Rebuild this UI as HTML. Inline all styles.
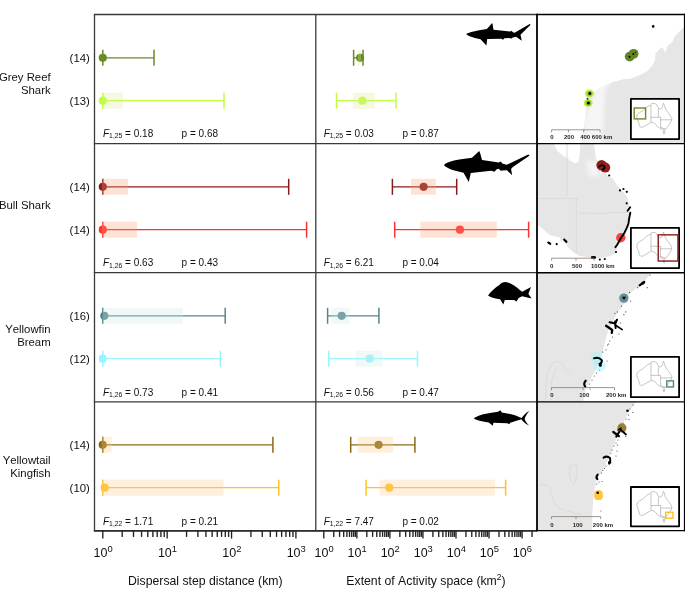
<!DOCTYPE html>
<html><head><meta charset="utf-8"><style>
html,body{margin:0;padding:0;background:#fff;}
body{width:685px;height:590px;overflow:hidden;font-family:"Liberation Sans",sans-serif;}
svg{display:block;will-change:transform;font-kerning:none;}
</style></head><body>
<svg width="685" height="590" viewBox="0 0 685 590" font-family="Liberation Sans, sans-serif">
<rect x="0" y="0" width="685" height="590" fill="#fff"/>
<line x1="102.8" y1="57.8" x2="154.0" y2="57.8" stroke="#698b22" stroke-width="1.3"/><line x1="102.8" y1="49.8" x2="102.8" y2="65.8" stroke="#698b22" stroke-width="1.5"/><line x1="154.0" y1="49.8" x2="154.0" y2="65.8" stroke="#698b22" stroke-width="1.5"/><circle cx="102.8" cy="57.8" r="4.1" fill="#698b22"/>
<line x1="102.8" y1="100.7" x2="224.0" y2="100.7" stroke="#c0ff3e" stroke-width="1.3"/><line x1="102.8" y1="92.7" x2="102.8" y2="108.7" stroke="#c0ff3e" stroke-width="1.5"/><line x1="224.0" y1="92.7" x2="224.0" y2="108.7" stroke="#c0ff3e" stroke-width="1.5"/><circle cx="102.8" cy="100.7" r="4.1" fill="#c0ff3e"/><rect x="102.8" y="92.7" width="20.2" height="16" fill="rgb(218, 235, 152)" fill-opacity="0.3"/>
<line x1="353.6" y1="57.8" x2="363.0" y2="57.8" stroke="#698b22" stroke-width="1.3"/><line x1="353.6" y1="49.8" x2="353.6" y2="65.8" stroke="#698b22" stroke-width="1.5"/><line x1="363.0" y1="49.8" x2="363.0" y2="65.8" stroke="#698b22" stroke-width="1.5"/><circle cx="360.1" cy="57.8" r="4.1" fill="#698b22"/><rect x="357.8" y="49.8" width="3.2" height="16" fill="rgb(218, 235, 152)" fill-opacity="0.3"/>
<line x1="336.5" y1="100.7" x2="395.9" y2="100.7" stroke="#c0ff3e" stroke-width="1.3"/><line x1="336.5" y1="92.7" x2="336.5" y2="108.7" stroke="#c0ff3e" stroke-width="1.5"/><line x1="395.9" y1="92.7" x2="395.9" y2="108.7" stroke="#c0ff3e" stroke-width="1.5"/><circle cx="362.4" cy="100.7" r="4.1" fill="#c0ff3e"/><rect x="352.7" y="92.7" width="22.2" height="16" fill="rgb(218, 235, 152)" fill-opacity="0.3"/>
<text x="103.0" y="137.1" font-size="10" fill="#111"><tspan font-style="italic">F</tspan><tspan font-size="6.8" dy="1.1">1,25</tspan><tspan dy="-1.1"> = 0.18</tspan></text>
<text x="181.6" y="137.1" font-size="10" fill="#111">p = 0.68</text>
<text x="323.7" y="137.1" font-size="10" fill="#111"><tspan font-style="italic">F</tspan><tspan font-size="6.8" dy="1.1">1,25</tspan><tspan dy="-1.1"> = 0.03</tspan></text>
<text x="402.4" y="137.1" font-size="10" fill="#111">p = 0.87</text>
<text x="50.6" y="81.0" font-size="11.35" text-anchor="end" fill="#111">Grey Reef</text>
<text x="50.6" y="93.8" font-size="11.35" text-anchor="end" fill="#111">Shark</text>
<text x="89.8" y="62.3" font-size="11.35" text-anchor="end" fill="#111">(14)</text>
<text x="89.8" y="105.2" font-size="11.35" text-anchor="end" fill="#111">(13)</text>
<line x1="102.8" y1="186.8" x2="288.7" y2="186.8" stroke="#8b1a1a" stroke-width="1.3"/><line x1="102.8" y1="178.8" x2="102.8" y2="194.8" stroke="#8b1a1a" stroke-width="1.5"/><line x1="288.7" y1="178.8" x2="288.7" y2="194.8" stroke="#8b1a1a" stroke-width="1.5"/><circle cx="102.8" cy="186.8" r="4.1" fill="#8b1a1a"/><rect x="101.8" y="178.8" width="26.2" height="16" fill="rgb(252, 158, 118)" fill-opacity="0.3"/>
<line x1="102.8" y1="229.7" x2="306.6" y2="229.7" stroke="#ff3030" stroke-width="1.3"/><line x1="102.8" y1="221.7" x2="102.8" y2="237.7" stroke="#ff3030" stroke-width="1.5"/><line x1="306.6" y1="221.7" x2="306.6" y2="237.7" stroke="#ff3030" stroke-width="1.5"/><circle cx="102.8" cy="229.7" r="4.1" fill="#ff3030"/><rect x="101.8" y="221.7" width="35.2" height="16" fill="rgb(252, 158, 118)" fill-opacity="0.3"/>
<line x1="392.4" y1="186.8" x2="456.7" y2="186.8" stroke="#8b1a1a" stroke-width="1.3"/><line x1="392.4" y1="178.8" x2="392.4" y2="194.8" stroke="#8b1a1a" stroke-width="1.5"/><line x1="456.7" y1="178.8" x2="456.7" y2="194.8" stroke="#8b1a1a" stroke-width="1.5"/><circle cx="423.6" cy="186.8" r="4.1" fill="#8b1a1a"/><rect x="411.0" y="178.8" width="24.8" height="16" fill="rgb(252, 158, 118)" fill-opacity="0.3"/>
<line x1="394.7" y1="229.7" x2="528.6" y2="229.7" stroke="#ff3030" stroke-width="1.3"/><line x1="394.7" y1="221.7" x2="394.7" y2="237.7" stroke="#ff3030" stroke-width="1.5"/><line x1="528.6" y1="221.7" x2="528.6" y2="237.7" stroke="#ff3030" stroke-width="1.5"/><circle cx="459.9" cy="229.7" r="4.1" fill="#ff3030"/><rect x="420.4" y="221.7" width="76.4" height="16" fill="rgb(252, 158, 118)" fill-opacity="0.3"/>
<text x="103.0" y="266.4" font-size="10" fill="#111"><tspan font-style="italic">F</tspan><tspan font-size="6.8" dy="1.1">1,26</tspan><tspan dy="-1.1"> = 0.63</tspan></text>
<text x="181.6" y="266.4" font-size="10" fill="#111">p = 0.43</text>
<text x="323.7" y="266.4" font-size="10" fill="#111"><tspan font-style="italic">F</tspan><tspan font-size="6.8" dy="1.1">1,26</tspan><tspan dy="-1.1"> = 6.21</tspan></text>
<text x="402.4" y="266.4" font-size="10" fill="#111">p = 0.04</text>
<text x="50.6" y="209.4" font-size="11.35" text-anchor="end" fill="#111">Bull Shark</text>
<text x="89.8" y="191.3" font-size="11.35" text-anchor="end" fill="#111">(14)</text>
<text x="89.8" y="234.2" font-size="11.35" text-anchor="end" fill="#111">(14)</text>
<line x1="102.8" y1="315.8" x2="225.2" y2="315.8" stroke="#53868b" stroke-width="1.3"/><line x1="102.8" y1="307.8" x2="102.8" y2="323.8" stroke="#53868b" stroke-width="1.5"/><line x1="225.2" y1="307.8" x2="225.2" y2="323.8" stroke="#53868b" stroke-width="1.5"/><circle cx="104.3" cy="315.8" r="4.1" fill="#53868b"/><rect x="102.8" y="307.8" width="80.2" height="16" fill="rgb(208, 232, 232)" fill-opacity="0.3"/>
<line x1="102.8" y1="358.7" x2="220.4" y2="358.7" stroke="#98f5ff" stroke-width="1.3"/><line x1="102.8" y1="350.7" x2="102.8" y2="366.7" stroke="#98f5ff" stroke-width="1.5"/><line x1="220.4" y1="350.7" x2="220.4" y2="366.7" stroke="#98f5ff" stroke-width="1.5"/><circle cx="102.8" cy="358.7" r="4.1" fill="#98f5ff"/>
<line x1="327.6" y1="315.8" x2="378.9" y2="315.8" stroke="#53868b" stroke-width="1.3"/><line x1="327.6" y1="307.8" x2="327.6" y2="323.8" stroke="#53868b" stroke-width="1.5"/><line x1="378.9" y1="307.8" x2="378.9" y2="323.8" stroke="#53868b" stroke-width="1.5"/><circle cx="341.7" cy="315.8" r="4.1" fill="#53868b"/><rect x="331.4" y="307.8" width="18.3" height="16" fill="rgb(208, 232, 232)" fill-opacity="0.3"/>
<line x1="328.8" y1="358.7" x2="417.5" y2="358.7" stroke="#98f5ff" stroke-width="1.3"/><line x1="328.8" y1="350.7" x2="328.8" y2="366.7" stroke="#98f5ff" stroke-width="1.5"/><line x1="417.5" y1="350.7" x2="417.5" y2="366.7" stroke="#98f5ff" stroke-width="1.5"/><circle cx="369.6" cy="358.7" r="4.1" fill="#98f5ff"/><rect x="355.5" y="350.7" width="26.7" height="16" fill="rgb(208, 232, 232)" fill-opacity="0.3"/>
<text x="103.0" y="395.7" font-size="10" fill="#111"><tspan font-style="italic">F</tspan><tspan font-size="6.8" dy="1.1">1,26</tspan><tspan dy="-1.1"> = 0.73</tspan></text>
<text x="181.6" y="395.7" font-size="10" fill="#111">p = 0.41</text>
<text x="323.7" y="395.7" font-size="10" fill="#111"><tspan font-style="italic">F</tspan><tspan font-size="6.8" dy="1.1">1,26</tspan><tspan dy="-1.1"> = 0.56</tspan></text>
<text x="402.4" y="395.7" font-size="10" fill="#111">p = 0.47</text>
<text x="50.6" y="332.6" font-size="11.35" text-anchor="end" fill="#111">Yellowfin</text>
<text x="50.6" y="345.8" font-size="11.35" text-anchor="end" fill="#111">Bream</text>
<text x="89.8" y="320.3" font-size="11.35" text-anchor="end" fill="#111">(16)</text>
<text x="89.8" y="363.2" font-size="11.35" text-anchor="end" fill="#111">(12)</text>
<line x1="102.8" y1="444.8" x2="272.9" y2="444.8" stroke="#8b6914" stroke-width="1.3"/><line x1="102.8" y1="436.8" x2="102.8" y2="452.8" stroke="#8b6914" stroke-width="1.5"/><line x1="272.9" y1="436.8" x2="272.9" y2="452.8" stroke="#8b6914" stroke-width="1.5"/><circle cx="102.7" cy="444.8" r="4.1" fill="#8b6914"/><rect x="101.5" y="436.8" width="10.3" height="16" fill="rgb(252, 205, 138)" fill-opacity="0.3"/>
<line x1="102.8" y1="487.7" x2="278.7" y2="487.7" stroke="#ffc125" stroke-width="1.3"/><line x1="102.8" y1="479.7" x2="102.8" y2="495.7" stroke="#ffc125" stroke-width="1.5"/><line x1="278.7" y1="479.7" x2="278.7" y2="495.7" stroke="#ffc125" stroke-width="1.5"/><circle cx="104.7" cy="487.7" r="4.1" fill="#ffc125"/><rect x="101.5" y="479.7" width="122.1" height="16" fill="rgb(252, 205, 138)" fill-opacity="0.3"/>
<line x1="350.7" y1="444.8" x2="414.9" y2="444.8" stroke="#8b6914" stroke-width="1.3"/><line x1="350.7" y1="436.8" x2="350.7" y2="452.8" stroke="#8b6914" stroke-width="1.5"/><line x1="414.9" y1="436.8" x2="414.9" y2="452.8" stroke="#8b6914" stroke-width="1.5"/><circle cx="378.6" cy="444.8" r="4.1" fill="#8b6914"/><rect x="357.7" y="436.8" width="35.4" height="16" fill="rgb(252, 205, 138)" fill-opacity="0.3"/>
<line x1="366.1" y1="487.7" x2="505.6" y2="487.7" stroke="#ffc125" stroke-width="1.3"/><line x1="366.1" y1="479.7" x2="366.1" y2="495.7" stroke="#ffc125" stroke-width="1.5"/><line x1="505.6" y1="479.7" x2="505.6" y2="495.7" stroke="#ffc125" stroke-width="1.5"/><circle cx="389.2" cy="487.7" r="4.1" fill="#ffc125"/><rect x="379.6" y="479.7" width="115.3" height="16" fill="rgb(252, 205, 138)" fill-opacity="0.3"/>
<text x="103.0" y="525.0" font-size="10" fill="#111"><tspan font-style="italic">F</tspan><tspan font-size="6.8" dy="1.1">1,22</tspan><tspan dy="-1.1"> = 1.71</tspan></text>
<text x="181.6" y="525.0" font-size="10" fill="#111">p = 0.21</text>
<text x="323.7" y="525.0" font-size="10" fill="#111"><tspan font-style="italic">F</tspan><tspan font-size="6.8" dy="1.1">1,22</tspan><tspan dy="-1.1"> = 7.47</tspan></text>
<text x="402.4" y="525.0" font-size="10" fill="#111">p = 0.02</text>
<text x="50.6" y="463.7" font-size="11.35" text-anchor="end" fill="#111">Yellowtail</text>
<text x="50.6" y="476.5" font-size="11.35" text-anchor="end" fill="#111">Kingfish</text>
<text x="89.8" y="449.3" font-size="11.35" text-anchor="end" fill="#111">(14)</text>
<text x="89.8" y="492.2" font-size="11.35" text-anchor="end" fill="#111">(10)</text>
<g stroke="#3a3a3a" stroke-width="1.3" fill="none">
<line x1="93.85" y1="14.5" x2="537.0" y2="14.5"/>
<line x1="93.85" y1="143.6" x2="537.0" y2="143.6"/>
<line x1="93.85" y1="272.7" x2="537.0" y2="272.7"/>
<line x1="93.85" y1="401.85" x2="537.0" y2="401.85"/>
<line x1="93.85" y1="530.6" x2="537.0" y2="530.6"/>
<line x1="94.5" y1="14.5" x2="94.5" y2="530.6"/>
<line x1="315.8" y1="14.5" x2="315.8" y2="530.6"/>
</g>
<line x1="93.85" y1="530.8" x2="537.0" y2="530.8" stroke="#2e2e2e" stroke-width="1.8"/>
<g stroke="#222" stroke-width="1.35">
<line x1="102.80" y1="530.6" x2="102.80" y2="538.6"/><line x1="122.18" y1="530.6" x2="122.18" y2="536.9"/><line x1="133.51" y1="530.6" x2="133.51" y2="536.9"/><line x1="141.55" y1="530.6" x2="141.55" y2="536.9"/><line x1="147.79" y1="530.6" x2="147.79" y2="536.9"/><line x1="152.89" y1="530.6" x2="152.89" y2="536.9"/><line x1="157.20" y1="530.6" x2="157.20" y2="536.9"/><line x1="160.93" y1="530.6" x2="160.93" y2="536.9"/><line x1="164.22" y1="530.6" x2="164.22" y2="536.9"/><line x1="167.17" y1="530.6" x2="167.17" y2="538.6"/><line x1="186.55" y1="530.6" x2="186.55" y2="536.9"/><line x1="197.88" y1="530.6" x2="197.88" y2="536.9"/><line x1="205.92" y1="530.6" x2="205.92" y2="536.9"/><line x1="212.16" y1="530.6" x2="212.16" y2="536.9"/><line x1="217.26" y1="530.6" x2="217.26" y2="536.9"/><line x1="221.57" y1="530.6" x2="221.57" y2="536.9"/><line x1="225.30" y1="530.6" x2="225.30" y2="536.9"/><line x1="228.59" y1="530.6" x2="228.59" y2="536.9"/><line x1="231.54" y1="530.6" x2="231.54" y2="538.6"/><line x1="250.92" y1="530.6" x2="250.92" y2="536.9"/><line x1="262.25" y1="530.6" x2="262.25" y2="536.9"/><line x1="270.29" y1="530.6" x2="270.29" y2="536.9"/><line x1="276.53" y1="530.6" x2="276.53" y2="536.9"/><line x1="281.63" y1="530.6" x2="281.63" y2="536.9"/><line x1="285.94" y1="530.6" x2="285.94" y2="536.9"/><line x1="289.67" y1="530.6" x2="289.67" y2="536.9"/><line x1="292.96" y1="530.6" x2="292.96" y2="536.9"/><line x1="295.91" y1="530.6" x2="295.91" y2="538.6"/>
<line x1="323.80" y1="530.6" x2="323.80" y2="538.6"/><line x1="333.75" y1="530.6" x2="333.75" y2="536.9"/><line x1="339.57" y1="530.6" x2="339.57" y2="536.9"/><line x1="343.70" y1="530.6" x2="343.70" y2="536.9"/><line x1="346.90" y1="530.6" x2="346.90" y2="536.9"/><line x1="349.52" y1="530.6" x2="349.52" y2="536.9"/><line x1="351.73" y1="530.6" x2="351.73" y2="536.9"/><line x1="353.65" y1="530.6" x2="353.65" y2="536.9"/><line x1="355.34" y1="530.6" x2="355.34" y2="536.9"/><line x1="356.85" y1="530.6" x2="356.85" y2="538.6"/><line x1="366.80" y1="530.6" x2="366.80" y2="536.9"/><line x1="372.62" y1="530.6" x2="372.62" y2="536.9"/><line x1="376.75" y1="530.6" x2="376.75" y2="536.9"/><line x1="379.95" y1="530.6" x2="379.95" y2="536.9"/><line x1="382.57" y1="530.6" x2="382.57" y2="536.9"/><line x1="384.78" y1="530.6" x2="384.78" y2="536.9"/><line x1="386.70" y1="530.6" x2="386.70" y2="536.9"/><line x1="388.39" y1="530.6" x2="388.39" y2="536.9"/><line x1="389.90" y1="530.6" x2="389.90" y2="538.6"/><line x1="399.85" y1="530.6" x2="399.85" y2="536.9"/><line x1="405.67" y1="530.6" x2="405.67" y2="536.9"/><line x1="409.80" y1="530.6" x2="409.80" y2="536.9"/><line x1="413.00" y1="530.6" x2="413.00" y2="536.9"/><line x1="415.62" y1="530.6" x2="415.62" y2="536.9"/><line x1="417.83" y1="530.6" x2="417.83" y2="536.9"/><line x1="419.75" y1="530.6" x2="419.75" y2="536.9"/><line x1="421.44" y1="530.6" x2="421.44" y2="536.9"/><line x1="422.95" y1="530.6" x2="422.95" y2="538.6"/><line x1="432.90" y1="530.6" x2="432.90" y2="536.9"/><line x1="438.72" y1="530.6" x2="438.72" y2="536.9"/><line x1="442.85" y1="530.6" x2="442.85" y2="536.9"/><line x1="446.05" y1="530.6" x2="446.05" y2="536.9"/><line x1="448.67" y1="530.6" x2="448.67" y2="536.9"/><line x1="450.88" y1="530.6" x2="450.88" y2="536.9"/><line x1="452.80" y1="530.6" x2="452.80" y2="536.9"/><line x1="454.49" y1="530.6" x2="454.49" y2="536.9"/><line x1="456.00" y1="530.6" x2="456.00" y2="538.6"/><line x1="465.95" y1="530.6" x2="465.95" y2="536.9"/><line x1="471.77" y1="530.6" x2="471.77" y2="536.9"/><line x1="475.90" y1="530.6" x2="475.90" y2="536.9"/><line x1="479.10" y1="530.6" x2="479.10" y2="536.9"/><line x1="481.72" y1="530.6" x2="481.72" y2="536.9"/><line x1="483.93" y1="530.6" x2="483.93" y2="536.9"/><line x1="485.85" y1="530.6" x2="485.85" y2="536.9"/><line x1="487.54" y1="530.6" x2="487.54" y2="536.9"/><line x1="489.05" y1="530.6" x2="489.05" y2="538.6"/><line x1="499.00" y1="530.6" x2="499.00" y2="536.9"/><line x1="504.82" y1="530.6" x2="504.82" y2="536.9"/><line x1="508.95" y1="530.6" x2="508.95" y2="536.9"/><line x1="512.15" y1="530.6" x2="512.15" y2="536.9"/><line x1="514.77" y1="530.6" x2="514.77" y2="536.9"/><line x1="516.98" y1="530.6" x2="516.98" y2="536.9"/><line x1="518.90" y1="530.6" x2="518.90" y2="536.9"/><line x1="520.59" y1="530.6" x2="520.59" y2="536.9"/><line x1="522.10" y1="530.6" x2="522.10" y2="538.6"/><line x1="532.05" y1="530.6" x2="532.05" y2="536.9"/>
</g>
<text x="103.10" y="557.4" font-size="12.5" text-anchor="middle" fill="#111">10<tspan font-size="9.4" dy="-5.6">0</tspan></text>
<text x="167.47" y="557.4" font-size="12.5" text-anchor="middle" fill="#111">10<tspan font-size="9.4" dy="-5.6">1</tspan></text>
<text x="231.84" y="557.4" font-size="12.5" text-anchor="middle" fill="#111">10<tspan font-size="9.4" dy="-5.6">2</tspan></text>
<text x="296.21" y="557.4" font-size="12.5" text-anchor="middle" fill="#111">10<tspan font-size="9.4" dy="-5.6">3</tspan></text>
<text x="324.10" y="557.4" font-size="12.5" text-anchor="middle" fill="#111">10<tspan font-size="9.4" dy="-5.6">0</tspan></text>
<text x="357.15" y="557.4" font-size="12.5" text-anchor="middle" fill="#111">10<tspan font-size="9.4" dy="-5.6">1</tspan></text>
<text x="390.20" y="557.4" font-size="12.5" text-anchor="middle" fill="#111">10<tspan font-size="9.4" dy="-5.6">2</tspan></text>
<text x="423.25" y="557.4" font-size="12.5" text-anchor="middle" fill="#111">10<tspan font-size="9.4" dy="-5.6">3</tspan></text>
<text x="456.30" y="557.4" font-size="12.5" text-anchor="middle" fill="#111">10<tspan font-size="9.4" dy="-5.6">4</tspan></text>
<text x="489.35" y="557.4" font-size="12.5" text-anchor="middle" fill="#111">10<tspan font-size="9.4" dy="-5.6">5</tspan></text>
<text x="522.40" y="557.4" font-size="12.5" text-anchor="middle" fill="#111">10<tspan font-size="9.4" dy="-5.6">6</tspan></text>
<text x="205.3" y="584.6" font-size="12.25" text-anchor="middle" fill="#111">Dispersal step distance (km)</text>
<text x="426" y="584.9" font-size="12.25" text-anchor="middle" fill="#111">Extent of Activity space (km<tspan font-size="8.5" dy="-4.5">2</tspan><tspan dy="4.5">)</tspan></text>
<path transform="translate(460 16) scale(0.11099)" d="M55 163 C90 145 170 128 242 118 L290 62 C297 78 297 102 302 125 L455 140 L465 132 L476 146 L492 150 L628 72 L636 78 L545 168 L557 222 L505 186 L470 195 L462 206 L448 198 L400 200 L388 213 L372 205 L245 208 L238 265 L185 210 C130 200 80 185 55 163 Z" fill="#000"/>
<path transform="translate(440 148) scale(0.14015)" d="M28 122 C40 105 90 88 150 80 L228 70 L280 22 C290 40 292 65 300 85 L420 104 L432 96 L448 112 L476 120 L630 47 L640 53 L520 135 L507 150 L515 195 L478 158 L445 160 L432 162 L420 148 L405 152 L388 170 L365 162 L220 178 L205 242 L168 176 C110 165 50 150 28 122 Z" fill="#000"/>
<path transform="translate(484 278) scale(0.07299)" d="M55 240 C90 190 150 130 210 95 C230 70 260 55 295 55 C360 65 430 110 490 165 L522 190 L645 122 L608 215 L652 282 L522 250 L475 275 L445 322 L410 300 L285 300 L265 362 L220 292 C160 285 100 270 55 240 Z" fill="#000"/>
<path transform="translate(470 405) scale(0.09346)" d="M40 145 C70 115 150 92 230 82 L300 72 L325 55 L340 80 C400 88 480 105 530 130 L552 140 C575 110 600 80 635 65 C605 100 590 130 585 150 C595 180 610 200 635 220 C600 205 570 180 550 152 L430 190 L420 206 L400 194 L250 190 L245 222 L200 186 C140 180 80 170 40 145 Z" fill="#000"/>
<defs><clipPath id="mc1"><rect x="537" y="14.5" width="147" height="129"/></clipPath><clipPath id="mc2"><rect x="537" y="143.6" width="147" height="129"/></clipPath><clipPath id="mc3"><rect x="537" y="272.7" width="147" height="129"/></clipPath><clipPath id="mc4"><rect x="537" y="401.6" width="147" height="129"/></clipPath></defs>
<filter id="bl" x="-5%" y="-5%" width="110%" height="110%"><feGaussianBlur stdDeviation="0.3"/></filter>
<g filter="url(#bl)">
<g clip-path="url(#mc1)"><polygon points="581.0,144.0 582.3,135.0 584.0,125.0 585.2,118.4 586.6,103.8 589.0,97.0 592.5,93.6 599.8,87.7 605.6,84.8 612.9,81.9 624.6,79.0 629.7,79.0 638.5,75.7 647.3,71.3 652.9,64.7 655.0,60.3 655.6,53.6 659.5,49.2 662.2,47.0 665.5,53.1 667.2,46.0 672.7,41.5 674.3,37.1 678.2,32.7 682.6,28.3 685.0,27.2 685.0,144.0" fill="#e6e6e6" /></g>
<g clip-path="url(#mc2)"><polygon points="537.0,143.0 554.0,143.0 554.0,144.2 557.5,151.2 563.4,155.8 570.4,160.5 575.0,163.4 578.5,161.7 579.7,154.7 580.3,143.0 593.7,143.0 594.9,150.0 596.0,158.2 598.0,166.0 600.4,172.8 605.4,173.4 608.5,176.9 612.4,178.0 616.7,185.0 622.1,190.4 627.5,197.2 628.9,204.0 629.7,208.0 629.0,219.7 626.0,229.9 623.1,237.2 618.8,243.0 616.6,248.9 615.8,253.3 610.0,256.2 603.0,257.5 595.2,258.2 586.5,257.0 579.0,255.7 572.9,252.0 568.0,247.0 565.0,242.0 563.0,238.5 561.5,243.0 559.5,237.2 555.0,236.5 549.4,234.7 543.0,229.0 537.0,224.5" fill="#e6e6e6" /></g>
<g clip-path="url(#mc3)"><polygon points="537.0,272.0 651.0,272.0 650.2,274.3 643.6,282.2 635.7,288.8 629.1,294.0 625.2,301.9 621.2,307.2 616.0,315.0 612.0,323.0 608.1,330.8 605.5,340.0 602.7,352.1 599.0,361.0 596.1,369.2 592.2,375.7 588.2,383.6 585.6,390.2 583.0,402.0 537.0,402.0" fill="#e6e6e6" /></g>
<g clip-path="url(#mc4)"><polygon points="537.0,401.0 636.0,401.0 635.0,403.6 630.4,408.9 626.5,416.8 622.6,423.3 618.6,431.2 616.0,439.1 613.4,445.7 610.7,453.6 606.8,461.4 604.2,468.0 601.4,471.9 596.8,479.8 594.8,487.7 593.5,496.9 592.8,506.0 592.2,516.6 592.2,531.0 537.0,531.0" fill="#e6e6e6" /></g>
<filter id="sb" x="-20%" y="-20%" width="140%" height="140%"><feGaussianBlur stdDeviation="2.2"/></filter>
<g clip-path="url(#mc1)"><polygon points="582,146 584,125 585.2,116.5 587.5,108.2 593.5,94 600.6,82 606,80 611,81.5 606.5,88 604.5,100 604.5,115 603,130 601,146" fill="#fff" fill-opacity="0.6" filter="url(#sb)"/></g>
<g clip-path="url(#mc2)"><polygon points="586,162 592,160 597,162 600,170 600,176 594,178 588,174" fill="#fff" fill-opacity="0.55" filter="url(#sb)"/></g>
<g fill="none" stroke="#d9d9d9" stroke-width="0.9">
<path d="M567 143.6 L567 197 M537 198.5 L578 198.5 M576.4 198.5 L576.4 253.5 M579 213.6 C590 212 600 215 610 212.5 C617 211 622 214 627.5 212"/>
<path d="M546 400 C545 385 546 370 553 363 C557 359.5 562 362 564 367 C566 372 569 370 570 375 M551 400 C550 388 552 374 557 369"/>
<path d="M570 478 C568 470 571 463 575 464 C578 466 577 476 575 483 C573 484 571 482 570 478 Z M539.4 484.4 L547.7 485.6 C550 487 551 491 552 495 C553 500 555 505 558.4 507 C562 510 566 511 571 512 C574 513 578 514 582 514"/>
</g>
<g>
<circle cx="629.7" cy="56.6" r="4.9" fill="#618522"/><circle cx="633.6" cy="53.8" r="4.9" fill="#618522"/>
<circle cx="629.5" cy="56.8" r="1" fill="#000"/><circle cx="633.3" cy="54" r="1" fill="#000"/><circle cx="635.5" cy="52.5" r="0.6" fill="#000"/>
<circle cx="653.2" cy="26.4" r="1.3" fill="#000"/>
<ellipse cx="589.4" cy="93.5" rx="4.5" ry="4" fill="#b8f040"/><ellipse cx="588.2" cy="103" rx="4.4" ry="3.8" fill="#b8f040"/>
<circle cx="589.7" cy="93.6" r="2.7" fill="#6b9a20" fill-opacity="0.55"/><circle cx="588.4" cy="103" r="2.7" fill="#6b9a20" fill-opacity="0.55"/>
<circle cx="589.8" cy="93.5" r="1.4" fill="#000"/><circle cx="588.4" cy="103" r="1.5" fill="#000"/><circle cx="587.5" cy="98.7" r="1" fill="#333"/>
<circle cx="601.6" cy="165.3" r="5.2" fill="#8b1a1a"/><circle cx="605.2" cy="167.6" r="5" fill="#931b1b"/><circle cx="603.5" cy="166.5" r="3.2" fill="#a81c1c"/>
<path d="M599.3 166.8 Q601.5 164 604.6 166.4 Q605 168.5 602.6 169.6" stroke="#000" stroke-width="1.8" fill="none" stroke-linecap="round"/>
<circle cx="609.2" cy="175.5" r="1.1" fill="#000"/>
<circle cx="620" cy="190.4" r="1.1" fill="#000"/>
<circle cx="623.5" cy="189" r="1.1" fill="#000"/>
<circle cx="626.8" cy="191.8" r="1.1" fill="#000"/>
<circle cx="626.7" cy="203.3" r="1.1" fill="#000"/>
<circle cx="616" cy="252" r="1.1" fill="#000"/>
<circle cx="549.4" cy="243" r="1.1" fill="#000"/>
<circle cx="556.7" cy="244.2" r="1.1" fill="#000"/>
<circle cx="565.5" cy="240.8" r="1.1" fill="#000"/>
<circle cx="599.8" cy="259.6" r="1.1" fill="#000"/>
<circle cx="604.8" cy="259" r="1.1" fill="#000"/>
<circle cx="620.8" cy="237.7" r="4.7" fill="#f83030" fill-opacity="0.9"/>
<path d="M627.6 210.8 L630.2 207.2 M630.3 212.8 L629.1 218.7 L628.5 223.5 L626.7 228.2 L624.3 233 L620.8 238.3 L617.8 243.7 L615.4 247.2" stroke="#000" stroke-width="1.9" fill="none" stroke-linecap="round" stroke-linejoin="round"/>
<ellipse cx="593.3" cy="257.5" rx="2.2" ry="1.4" fill="#000"/>
<path d="M563.5 239 L567 242.5" stroke="#000" stroke-width="2"/><path d="M547.5 242 L551 244.5" stroke="#000" stroke-width="1.8"/><path d="M591 257.5 L596 257.5" stroke="#000" stroke-width="2"/>
<circle cx="650" cy="275" r="0.6" fill="#444"/>
<circle cx="647.2" cy="287.7" r="0.6" fill="#444"/>
<circle cx="637.7" cy="287.7" r="0.6" fill="#444"/>
<circle cx="629.6" cy="292.4" r="0.6" fill="#444"/>
<circle cx="630.6" cy="301" r="0.6" fill="#444"/>
<circle cx="621.6" cy="306.2" r="0.6" fill="#444"/>
<circle cx="625.8" cy="311.9" r="0.6" fill="#444"/>
<circle cx="623.9" cy="314.7" r="0.6" fill="#444"/>
<circle cx="614.9" cy="313.3" r="0.6" fill="#444"/>
<circle cx="616.8" cy="319.5" r="0.6" fill="#444"/>
<circle cx="617.3" cy="311.9" r="0.6" fill="#444"/>
<circle cx="620.5" cy="323" r="0.6" fill="#444"/>
<circle cx="619" cy="334" r="0.6" fill="#444"/>
<circle cx="612.5" cy="337" r="0.6" fill="#444"/>
<circle cx="609.8" cy="341" r="0.6" fill="#444"/>
<circle cx="607.5" cy="345" r="0.6" fill="#444"/>
<circle cx="606" cy="349.8" r="0.6" fill="#444"/>
<circle cx="608.6" cy="344" r="0.6" fill="#444"/>
<circle cx="607" cy="361" r="0.6" fill="#444"/>
<circle cx="602.7" cy="352.1" r="0.6" fill="#444"/>
<circle cx="599.5" cy="370" r="0.6" fill="#444"/>
<circle cx="596.5" cy="373" r="0.6" fill="#444"/>
<circle cx="594.2" cy="376" r="0.6" fill="#444"/>
<circle cx="592" cy="380" r="0.6" fill="#444"/>
<circle cx="589.5" cy="384" r="0.6" fill="#444"/>
<circle cx="590.1" cy="389" r="0.6" fill="#444"/>
<path d="M639.6 285.3 L644.3 282" stroke="#000" stroke-width="2.2" fill="none" stroke-linecap="round" stroke-linejoin="round"/><circle cx="643" cy="283" r="1.5" fill="#000"/>
<circle cx="623.9" cy="298.1" r="4.7" fill="#53868b" fill-opacity="0.9"/><path d="M622 296.8 L626 296.8 L624 300 Z" fill="#000"/>
<path d="M606.1 325.8 L612.2 330 L611.8 332.9" stroke="#000" stroke-width="2.3" fill="none" stroke-linecap="round" stroke-linejoin="round"/><path d="M609.6 322.2 L615.1 323.4 L617 319.8" stroke="#000" stroke-width="2.1" fill="none" stroke-linecap="round" stroke-linejoin="round"/><path d="M615.6 325.3 L622.2 329.6" stroke="#000" stroke-width="1.7" fill="none" stroke-linecap="round" stroke-linejoin="round"/><path d="M615.1 321.5 L615.6 328.1" stroke="#000" stroke-width="2.0" fill="none" stroke-linecap="round" stroke-linejoin="round"/>
<circle cx="596.8" cy="358.3" r="6" fill="#98f5ff" fill-opacity="0.5"/><circle cx="599.9" cy="366" r="5.5" fill="#98f5ff" fill-opacity="0.5"/>
<path d="M593.8 358.3 Q598.9 356.5 601.9 360.3 Q602 363.6 599.4 363.9" stroke="#000" stroke-width="1.9" fill="none" stroke-linecap="round" stroke-linejoin="round"/><circle cx="600.4" cy="365.3" r="1.5" fill="#000"/>
<path d="M585.7 380.7 Q583 383.7 585.2 386.7" stroke="#000" stroke-width="2.1" fill="none" stroke-linecap="round" stroke-linejoin="round"/>
<circle cx="633" cy="405" r="0.6" fill="#444"/>
<circle cx="632.8" cy="412.5" r="0.6" fill="#444"/>
<circle cx="630" cy="409" r="0.6" fill="#444"/>
<circle cx="628.5" cy="415" r="0.6" fill="#444"/>
<circle cx="626" cy="419" r="0.6" fill="#444"/>
<circle cx="629" cy="419.5" r="0.6" fill="#444"/>
<circle cx="623" cy="423" r="0.6" fill="#444"/>
<circle cx="625.8" cy="436.5" r="0.6" fill="#444"/>
<circle cx="618" cy="440" r="0.6" fill="#444"/>
<circle cx="616" cy="443" r="0.6" fill="#444"/>
<circle cx="614" cy="446" r="0.6" fill="#444"/>
<circle cx="617.5" cy="445" r="0.6" fill="#444"/>
<circle cx="612" cy="450" r="0.6" fill="#444"/>
<circle cx="617" cy="451" r="0.6" fill="#444"/>
<circle cx="616" cy="456" r="0.6" fill="#444"/>
<circle cx="611" cy="453" r="0.6" fill="#444"/>
<circle cx="606" cy="466" r="0.6" fill="#444"/>
<circle cx="604.5" cy="468.5" r="0.6" fill="#444"/>
<circle cx="602.8" cy="470.5" r="0.6" fill="#444"/>
<circle cx="601.5" cy="473" r="0.6" fill="#444"/>
<circle cx="602" cy="481.5" r="0.6" fill="#444"/>
<circle cx="599" cy="482" r="0.6" fill="#444"/>
<circle cx="596.8" cy="484" r="0.6" fill="#444"/>
<circle cx="601" cy="511" r="0.6" fill="#444"/>
<circle cx="627.5" cy="410.7" r="1.3" fill="#000"/>
<circle cx="621.9" cy="427.9" r="4.6" fill="#8b6914" fill-opacity="0.85"/>
<path d="M613.3 432 L618.9 436.1" stroke="#000" stroke-width="2.3" fill="none" stroke-linecap="round" stroke-linejoin="round"/><path d="M616.3 436.6 L619.4 431.5" stroke="#000" stroke-width="2.1" fill="none" stroke-linecap="round" stroke-linejoin="round"/><path d="M620.4 429.5 L626 434.5" stroke="#000" stroke-width="1.7" fill="none" stroke-linecap="round" stroke-linejoin="round"/><path d="M618 430 L621 428" stroke="#000" stroke-width="1.5" fill="none" stroke-linecap="round" stroke-linejoin="round"/>
<path d="M603.6 457.6 Q607 455.5 610 458 Q611 461 609.2 463.6" stroke="#000" stroke-width="2.0" fill="none" stroke-linecap="round" stroke-linejoin="round"/><circle cx="609.6" cy="462.3" r="1.6" fill="#000"/>
<path d="M597.7 474.6 Q595.5 477 597.3 479.2" stroke="#000" stroke-width="2.1" fill="none" stroke-linecap="round" stroke-linejoin="round"/>
<rect x="594.3" y="490.3" width="8.5" height="9.8" rx="3.6" fill="#ffc125" fill-opacity="0.92"/><circle cx="597.7" cy="492.8" r="1.3" fill="#000"/>
</g>
<g stroke="#8a7a70" stroke-width="0.8" fill="none"><line x1="551.6" y1="129.8" x2="600.1" y2="129.8"/><line x1="551.6" y1="129.8" x2="551.6" y2="132.3"/><line x1="568.4" y1="129.8" x2="568.4" y2="132.3"/><line x1="583.7" y1="129.8" x2="583.7" y2="132.3"/><line x1="600.1" y1="129.8" x2="600.1" y2="132.3"/></g><text x="552" y="138.6" font-size="6" font-weight="bold" fill="#262626" text-anchor="middle">0</text><text x="569" y="138.6" font-size="6" font-weight="bold" fill="#262626" text-anchor="middle">200</text><text x="580.2" y="138.6" font-size="6" font-weight="bold" fill="#262626" text-anchor="start">400 600 km</text>
<g stroke="#8a7a70" stroke-width="0.8" fill="none"><line x1="551.6" y1="258.2" x2="594" y2="258.2"/><line x1="551.6" y1="258.2" x2="551.6" y2="260.7"/><line x1="576" y1="258.2" x2="576" y2="260.7"/><line x1="594" y1="258.2" x2="594" y2="260.7"/></g><text x="551.6" y="267.8" font-size="6" font-weight="bold" fill="#262626" text-anchor="middle">0</text><text x="577" y="267.8" font-size="6" font-weight="bold" fill="#262626" text-anchor="middle">500</text><text x="591" y="267.8" font-size="6" font-weight="bold" fill="#262626" text-anchor="start">1000 km</text>
<g stroke="#8a7a70" stroke-width="0.8" fill="none"><line x1="551.5" y1="387.6" x2="614.5" y2="387.6"/><line x1="551.5" y1="387.6" x2="551.5" y2="390.1"/><line x1="583" y1="387.6" x2="583" y2="390.1"/><line x1="614.5" y1="387.6" x2="614.5" y2="390.1"/></g><text x="552" y="397.4" font-size="6" font-weight="bold" fill="#262626" text-anchor="middle">0</text><text x="584.3" y="397.4" font-size="6" font-weight="bold" fill="#262626" text-anchor="middle">100</text><text x="606" y="397.4" font-size="6" font-weight="bold" fill="#262626" text-anchor="start">200 km</text>
<g stroke="#8a7a70" stroke-width="0.8" fill="none"><line x1="551.5" y1="516.6" x2="600.7" y2="516.6"/><line x1="551.5" y1="516.6" x2="551.5" y2="519.1"/><line x1="576" y1="516.6" x2="576" y2="519.1"/><line x1="600.7" y1="516.6" x2="600.7" y2="519.1"/></g><text x="552" y="526.7" font-size="6" font-weight="bold" fill="#262626" text-anchor="middle">0</text><text x="577.7" y="526.7" font-size="6" font-weight="bold" fill="#262626" text-anchor="middle">100</text><text x="592.8" y="526.7" font-size="6" font-weight="bold" fill="#262626" text-anchor="start">200 km</text>
<rect x="630.9" y="98.8" width="48.2" height="40.3" fill="#fff" stroke="#000" stroke-width="1.8" stroke-linejoin="round"/><g transform="translate(630.9 98.8)" fill="none" stroke="#8c8c8c" stroke-width="0.5"><polygon points="6.3,15.9 5.95,18.8 6.6,20.7 7.9,23.9 8.5,27.1 9.8,28.4 11.7,28.4 14.9,26.5 18.2,24.6 20.7,23.3 23.3,24.3 25.2,25.9 26.5,27.8 27.8,28.4 29.1,29.7 31,30.4 32.9,30.7 34.9,30.4 36.8,27.8 38.7,25.2 40.6,22 41,20.1 40.6,18.8 39.3,16.9 38.1,14.9 36.1,12.4 34.2,9.2 33.6,6.6 32.6,4.4 32,6 31,9.2 29.7,10.1 28.1,9.5 26.8,7.9 25.9,6 24.6,5 22.7,4.7 20.7,4.7 19.8,6.6 18.2,6.9 15.6,8.5 13.7,10.4 11.1,12.4 8.5,14"/><polygon points="32.3,32.3 34.2,32.3 33.6,34.9 32.6,34.9"/><polyline points="20.1,6.6 20.1,23.3"/><polyline points="20.1,18.5 29.7,18.5 29.7,29.1"/><polyline points="27.5,9.5 27.5,18.5"/><polyline points="29.7,21 40.8,21"/><polyline points="29.7,28.4 34.2,30.4"/></g><rect x="634.2" y="108.0" width="11.4" height="10.9" fill="none" stroke="#698b22" stroke-width="1.4"/>
<rect x="630.9" y="227.8" width="48.2" height="40.3" fill="#fff" stroke="#000" stroke-width="1.8" stroke-linejoin="round"/><g transform="translate(630.9 227.8)" fill="none" stroke="#8c8c8c" stroke-width="0.5"><polygon points="6.3,15.9 5.95,18.8 6.6,20.7 7.9,23.9 8.5,27.1 9.8,28.4 11.7,28.4 14.9,26.5 18.2,24.6 20.7,23.3 23.3,24.3 25.2,25.9 26.5,27.8 27.8,28.4 29.1,29.7 31,30.4 32.9,30.7 34.9,30.4 36.8,27.8 38.7,25.2 40.6,22 41,20.1 40.6,18.8 39.3,16.9 38.1,14.9 36.1,12.4 34.2,9.2 33.6,6.6 32.6,4.4 32,6 31,9.2 29.7,10.1 28.1,9.5 26.8,7.9 25.9,6 24.6,5 22.7,4.7 20.7,4.7 19.8,6.6 18.2,6.9 15.6,8.5 13.7,10.4 11.1,12.4 8.5,14"/><polygon points="32.3,32.3 34.2,32.3 33.6,34.9 32.6,34.9"/><polyline points="20.1,6.6 20.1,23.3"/><polyline points="20.1,18.5 29.7,18.5 29.7,29.1"/><polyline points="27.5,9.5 27.5,18.5"/><polyline points="29.7,21 40.8,21"/><polyline points="29.7,28.4 34.2,30.4"/></g><rect x="658.25" y="234.85" width="19.7" height="26.2" fill="none" stroke="#8b1a1a" stroke-width="1.4"/>
<rect x="630.9" y="356.9" width="48.2" height="40.3" fill="#fff" stroke="#000" stroke-width="1.8" stroke-linejoin="round"/><g transform="translate(630.9 356.9)" fill="none" stroke="#8c8c8c" stroke-width="0.5"><polygon points="6.3,15.9 5.95,18.8 6.6,20.7 7.9,23.9 8.5,27.1 9.8,28.4 11.7,28.4 14.9,26.5 18.2,24.6 20.7,23.3 23.3,24.3 25.2,25.9 26.5,27.8 27.8,28.4 29.1,29.7 31,30.4 32.9,30.7 34.9,30.4 36.8,27.8 38.7,25.2 40.6,22 41,20.1 40.6,18.8 39.3,16.9 38.1,14.9 36.1,12.4 34.2,9.2 33.6,6.6 32.6,4.4 32,6 31,9.2 29.7,10.1 28.1,9.5 26.8,7.9 25.9,6 24.6,5 22.7,4.7 20.7,4.7 19.8,6.6 18.2,6.9 15.6,8.5 13.7,10.4 11.1,12.4 8.5,14"/><polygon points="32.3,32.3 34.2,32.3 33.6,34.9 32.6,34.9"/><polyline points="20.1,6.6 20.1,23.3"/><polyline points="20.1,18.5 29.7,18.5 29.7,29.1"/><polyline points="27.5,9.5 27.5,18.5"/><polyline points="29.7,21 40.8,21"/><polyline points="29.7,28.4 34.2,30.4"/></g><rect x="666.75" y="380.85" width="6.7" height="6.1" fill="none" stroke="#53868b" stroke-width="1.4"/>
<rect x="630.9" y="487.0" width="48.2" height="39.3" fill="#fff" stroke="#000" stroke-width="1.8" stroke-linejoin="round"/><g transform="translate(630.9 487.0)" fill="none" stroke="#8c8c8c" stroke-width="0.5"><polygon points="6.3,15.9 5.95,18.8 6.6,20.7 7.9,23.9 8.5,27.1 9.8,28.4 11.7,28.4 14.9,26.5 18.2,24.6 20.7,23.3 23.3,24.3 25.2,25.9 26.5,27.8 27.8,28.4 29.1,29.7 31,30.4 32.9,30.7 34.9,30.4 36.8,27.8 38.7,25.2 40.6,22 41,20.1 40.6,18.8 39.3,16.9 38.1,14.9 36.1,12.4 34.2,9.2 33.6,6.6 32.6,4.4 32,6 31,9.2 29.7,10.1 28.1,9.5 26.8,7.9 25.9,6 24.6,5 22.7,4.7 20.7,4.7 19.8,6.6 18.2,6.9 15.6,8.5 13.7,10.4 11.1,12.4 8.5,14"/><polygon points="32.3,32.3 34.2,32.3 33.6,34.9 32.6,34.9"/><polyline points="20.1,6.6 20.1,23.3"/><polyline points="20.1,18.5 29.7,18.5 29.7,29.1"/><polyline points="27.5,9.5 27.5,18.5"/><polyline points="29.7,21 40.8,21"/><polyline points="29.7,28.4 34.2,30.4"/></g><rect x="665.75" y="512.25" width="7.2" height="6.0" fill="none" stroke="#ffc125" stroke-width="1.4"/>
</g>
<g stroke="#000" stroke-width="1.4" fill="none">
<line x1="537.0" y1="14.5" x2="684.9" y2="14.5"/>
<line x1="537.0" y1="143.6" x2="684.9" y2="143.6"/>
<line x1="537.0" y1="272.7" x2="684.9" y2="272.7"/>
<line x1="537.0" y1="401.85" x2="684.9" y2="401.85"/>
<line x1="537.0" y1="530.6" x2="684.9" y2="530.6"/>
<line x1="684.5" y1="13.8" x2="684.5" y2="531.3" stroke-width="1.2"/>
<line x1="537.0" y1="13.8" x2="537.0" y2="531.3" stroke-width="1.8"/>
</g>
</svg>
</body></html>
